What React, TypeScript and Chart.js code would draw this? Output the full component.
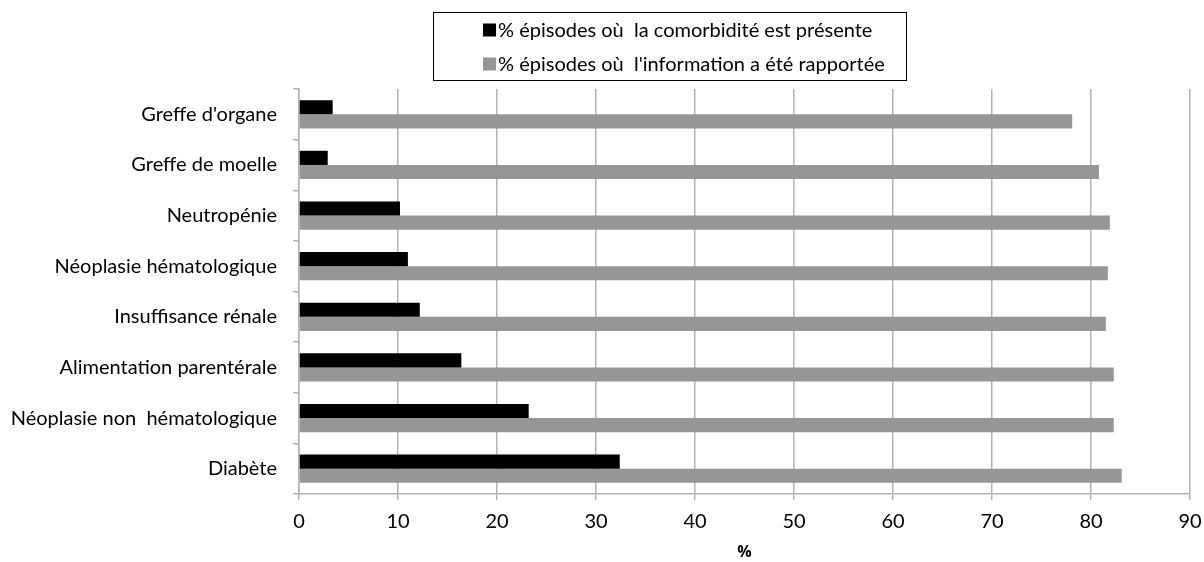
import React, { useEffect, useRef } from "react";
import { Chart, registerables } from "chart.js";
Chart.register(...registerables);

const categories = [
  "Greffe d'organe",
  "Greffe de moelle",
  "Neutropénie",
  "Néoplasie hématologique",
  "Insuffisance rénale",
  "Alimentation parentérale",
  "Néoplasie non  hématologique",
  "Diabète",
];
const presentValues = [3.4, 2.9, 10.2, 11.0, 12.2, 16.4, 23.2, 32.4];
const reportedValues = [78.1, 80.8, 81.9, 81.7, 81.5, 82.3, 82.3, 83.1];
const seriesLabels = [
  "% épisodes où  la comorbidité est présente",
  "% épisodes où  l'information a été rapportée",
];
const seriesColors = ["#000000", "#969696"];
const xMin = 0;
const xMax = 90;
const xStep = 10;
const xTitle = "%";

const FONT = "Lato";
const FS = 20;

const boxLegend = {
  id: "boxLegend",
  afterDraw(chart: any) {
    const ctx = chart.ctx;
    const left = 433.5, top = 12.5, right = 906.5, bottom = 80.5;
    ctx.save();
    ctx.strokeStyle = "#000";
    ctx.lineWidth = 1;
    ctx.strokeRect(left, top, right - left, bottom - top);
    const rows = [30, 64];
    chart.data.datasets.forEach((ds: any, i: number) => {
      const cy = rows[i];
      ctx.fillStyle = ds.backgroundColor;
      ctx.fillRect(483, cy - 6.5, 13, 13);
      ctx.fillStyle = "#000";
      ctx.font = `${FS}px "${FONT}"`;
      ctx.textBaseline = "middle";
      ctx.textAlign = "left";
      ctx.fillText(ds.label, 498, cy + 1);
    });
    ctx.restore();
  },
};

export default function App() {
  const ref = useRef<HTMLCanvasElement>(null);
  useEffect(() => {
    document.body.style.margin = "0";
    const chart = new Chart(ref.current!, {
      type: "bar",
      data: {
        labels: categories,
        datasets: [
          {
            label: seriesLabels[0],
            data: presentValues,
            backgroundColor: seriesColors[0],
            borderWidth: 0,
          },
          {
            label: seriesLabels[1],
            data: reportedValues,
            backgroundColor: seriesColors[1],
            borderWidth: 0,
          },
        ],
      },
      options: {
        indexAxis: "y",
        animation: false,
        responsive: false,
        maintainAspectRatio: false,
        datasets: { bar: { categoryPercentage: 0.56, barPercentage: 1 } },
        layout: { padding: { top: 89, right: 14, left: 0, bottom: 0 } },
        plugins: { legend: { display: false }, tooltip: { enabled: false } },
        scales: {
          x: {
            min: xMin,
            max: xMax,
            ticks: {
              stepSize: xStep,
              color: "#000",
              font: { family: FONT, size: FS },
              padding: 10,
            },
            grid: {
              color: "#b3b3b3",
              lineWidth: 1.5,
              tickLength: 6,
              tickColor: "#b3b3b3",
            },
            border: { color: "#b3b3b3", width: 1.5 },
            title: {
              display: true,
              text: xTitle,
              color: "#000",
              font: { family: "Open Sans", size: 16, weight: "bold" },
              padding: { top: 4, bottom: 0 },
            },
            afterFit(scale: any) {
              scale.height = 68;
              scale.paddingRight = 0;
              scale.paddingLeft = 0;
            },
          },
          y: {
            ticks: {
              color: "#000",
              font: { family: FONT, size: FS },
              padding: 16,
            },
            grid: {
              drawOnChartArea: false,
              drawTicks: true,
              tickLength: 6,
              tickColor: "#b3b3b3",
              lineWidth: 1.5,
            },
            border: { color: "#b3b3b3", width: 1.5 },
            afterFit(scale: any) {
              scale.width = 299;
              scale.paddingTop = 0;
              scale.paddingBottom = 0;
            },
          },
        },
      },
      plugins: [boxLegend],
    });
    return () => chart.destroy();
  }, []);
  return (
    <div style={{ width: 1204, height: 562 }}>
      <canvas ref={ref} width={1204} height={562} style={{ display: "block" }} />
    </div>
  );
}
